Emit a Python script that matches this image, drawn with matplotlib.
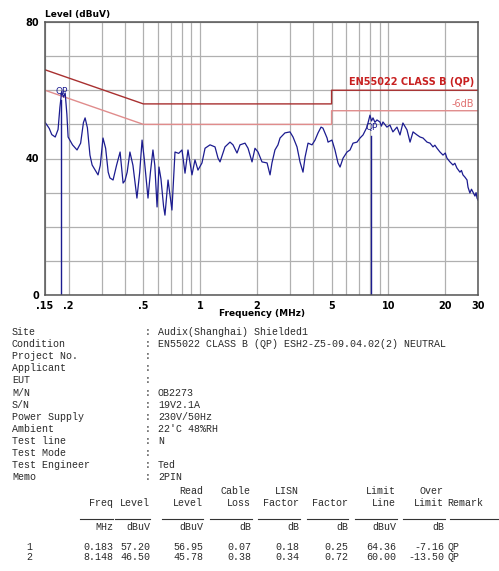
import matplotlib
matplotlib.use('Agg')
import matplotlib.pyplot as plt
from matplotlib.lines import Line2D

W, H = 499, 571

# Conducted emission scan (MHz, dBuV)
scan_freq = [0.150, 0.155, 0.158, 0.163, 0.170, 0.176, 0.180, 0.184, 0.188, 0.192,
             0.196, 0.199, 0.210, 0.222, 0.232, 0.240, 0.245, 0.252, 0.260, 0.267,
             0.287, 0.295, 0.305, 0.315, 0.325, 0.332, 0.345, 0.360, 0.376, 0.390,
             0.399, 0.410, 0.424, 0.440, 0.462, 0.478, 0.492, 0.505, 0.529, 0.545,
             0.562, 0.575, 0.591, 0.605, 0.620, 0.640, 0.651, 0.676, 0.690, 0.709,
             0.736, 0.770, 0.802, 0.832, 0.863, 0.906, 0.940, 0.975, 1.024, 1.063,
             1.130, 1.201, 1.246, 1.277, 1.357, 1.443, 1.497, 1.572, 1.631, 1.734,
             1.799, 1.889, 1.959, 2.033, 2.134, 2.271, 2.355, 2.411, 2.501, 2.595,
             2.661, 2.826, 3.006, 3.120, 3.275, 3.398, 3.525, 3.615, 3.749, 3.936,
             4.084, 4.237, 4.396, 4.499, 4.732, 4.788, 5.025, 5.212, 5.409, 5.547,
             5.755, 6.040, 6.267, 6.502, 6.825, 7.081, 7.347, 7.710, 8.000, 8.150,
             8.301, 8.500, 8.712, 9.039, 9.200, 9.378, 9.843, 10.21, 10.59, 11.13,
             11.55, 11.97, 12.58, 13.06, 13.55, 14.23, 14.76, 15.31, 16.08, 16.68,
             17.30, 17.70, 18.17, 18.84, 19.55, 20.10, 20.52, 21.29, 22.08, 22.60,
             23.18, 24.05, 24.50, 24.95, 25.60, 26.23, 26.55, 27.17, 27.70, 28.19,
             28.90, 29.30, 29.65, 30.00]
scan_level = [50.6, 49.5, 48.8, 47.0, 46.3, 48.5, 55.0, 59.6, 58.0, 59.2,
              53.0, 46.3, 44.0, 42.5, 44.5, 50.5, 51.9, 49.0, 41.0, 38.1,
              35.2, 38.0, 46.0, 43.0, 36.0, 34.3, 33.7, 38.0, 41.9, 32.8,
              33.5, 36.0, 41.9, 38.0, 28.4, 36.0, 45.4, 40.0, 28.4, 36.0,
              42.5, 38.0, 25.8, 37.5, 34.0, 26.0, 23.4, 33.7, 30.0, 24.9,
              41.9, 41.5, 42.5, 35.7, 42.5, 35.2, 39.6, 36.6, 38.7, 43.0,
              44.0, 43.4, 40.1, 39.0, 43.4, 44.8, 44.0, 41.6, 44.0, 44.5,
              43.0, 39.0, 43.0, 41.9, 39.0, 38.7, 35.2, 38.7, 42.5, 44.0,
              46.0, 47.5, 47.8, 46.3, 43.4, 39.0, 36.0, 40.4, 44.5, 44.0,
              45.4, 47.5, 49.2, 48.9, 46.0, 44.8, 45.4, 42.5, 38.7, 37.5,
              40.1, 41.9, 42.5, 44.5, 44.8, 46.0, 46.9, 49.2, 52.7, 51.0,
              51.9, 50.6, 51.3, 50.7, 49.5, 50.7, 49.2, 49.8, 47.8, 49.2,
              46.9, 50.4, 48.4, 44.8, 47.8, 46.9, 46.3, 46.0, 44.8, 44.5,
              43.4, 43.9, 43.0, 41.9, 41.0, 41.6, 40.1, 39.0, 38.1, 38.6,
              37.2, 36.0, 36.5, 35.2, 34.5, 33.7, 31.6, 29.9, 31.0, 30.2,
              29.0, 30.0, 28.4, 27.8]

# EN55022 class B quasi-peak limit and the -6 dB margin line
limit_freq = [0.15, 0.5, 5.0, 5.0, 30.0]
limit_qp = [66.0, 56.0, 56.0, 60.0, 60.0]
limit_margin = [60.0, 50.0, 50.0, 54.0, 54.0]

# Final QP measurements
qp_freq = [0.183, 8.148]
qp_level = [57.20, 46.50]
qp_read = [56.95, 45.78]
qp_cable = [0.07, 0.38]
qp_lisn = [0.18, 0.34]
qp_factor = [0.25, 0.72]
qp_limit = [64.36, 60.00]
qp_over = [-7.16, -13.50]
qp_remark = ['QP', 'QP']

info_labels = ['Site', 'Condition', 'Project No.', 'Applicant', 'EUT', 'M/N', 'S/N',
               'Power Supply', 'Ambient', 'Test line', 'Test Mode', 'Test Engineer', 'Memo']
info_values = ['Audix(Shanghai) Shielded1',
               'EN55022 CLASS B (QP) ESH2-Z5-09.04.02(2) NEUTRAL',
               '', '', '', 'OB2273', '19V2.1A', '230V/50Hz', "22'C 48%RH", 'N', '',
               'Ted', '2PIN']

grid_freqs = [0.15, 0.2, 0.3, 0.4, 0.5, 0.6, 0.7, 0.8, 0.9, 1, 2, 3, 4, 5, 6, 7, 8, 9, 10, 20, 30]
tick_text = {0.15: '.15', 0.2: '.2', 0.5: '.5', 1: '1', 2: '2', 5: '5', 10: '10', 20: '20', 30: '30'}

fig = plt.figure(figsize=(W / 100, H / 100), dpi=100)
ax = fig.add_axes([45 / W, 1 - 295 / H, 433 / W, 273 / H])

ax.set_xscale('log')
ax.set_xlim(0.15, 30)
ax.set_ylim(0, 80)
ax.set_xticks(grid_freqs)
ax.set_xticklabels([tick_text.get(f, '') for f in grid_freqs])
ax.xaxis.set_minor_locator(matplotlib.ticker.NullLocator())
ax.set_yticks(range(0, 81, 10))
ax.set_yticklabels(['0', '', '', '', '40', '', '', '', '80'])
ax.tick_params(length=0, labelsize=7, pad=4)
for lab in ax.get_xticklabels() + ax.get_yticklabels():
    lab.set_fontweight('bold')
ax.grid(True, color='#b0b0b0', lw=0.9)
for s in ax.spines.values():
    s.set_color('#555555')
    s.set_linewidth(1.1)

ax.plot(limit_freq, limit_qp, color='#a83030', lw=1.0)
ax.plot(limit_freq, limit_margin, color='#e08c8c', lw=1.0)
ax.plot(scan_freq, scan_level, color='#1c1c90', lw=0.9)

for f, lv in zip(qp_freq, qp_level):
    ax.plot([f, f], [0, lv], color='#1c1c90', lw=1.0)
    ax.text(f, lv + 1.2, 'QP', color='#1c1c90', fontsize=6.5, ha='center', va='bottom')

ax.text(28.6, 61.0, 'EN55022 CLASS B (QP)', color='#c82020', fontsize=7,
        fontweight='bold', ha='right', va='bottom')
ax.text(28.6, 54.6, '-6dB', color='#e07070', fontsize=7, ha='right', va='bottom')

fig.text(45 / W, 1 - 14 / H, 'Level (dBuV)', fontsize=6.5, fontweight='bold', va='center')
fig.text(262 / W, 1 - 314 / H, 'Frequency (MHz)', fontsize=6.5, fontweight='bold',
         ha='center', va='center')


def ftext(x, y, s, **kw):
    fig.text(x / W, 1 - y / H, s, family='Liberation Mono', fontsize=7.2,
             color='#2a2a2a', va='center', **kw)


# report header block
for i, (lab, val) in enumerate(zip(info_labels, info_values)):
    y = 332 + i * 12.1
    ftext(12, y, lab)
    ftext(145, y, ':')
    ftext(158, y, val)

# measurement table
col_right = [113, 150, 203, 251, 299, 348, 396, 444]
head1 = ['', '', 'Read', 'Cable', 'LISN', '', 'Limit', 'Over']
head2 = ['Freq', 'Level', 'Level', 'Loss', 'Factor', 'Factor', 'Line', 'Limit']
units = ['MHz', 'dBuV', 'dBuV', 'dB', 'dB', 'dB', 'dBuV', 'dB']
for x, a, b, u in zip(col_right, head1, head2, units):
    ftext(x, 491, a, ha='right')
    ftext(x, 503, b, ha='right')
    ftext(x, 527, u, ha='right')
ftext(447, 503, 'Remark')

rule_spans = [(80, 113), (115, 150), (162, 203), (210, 252), (258, 300),
              (307, 348), (355, 397), (403, 445), (450, 498)]
for x0, x1 in rule_spans:
    fig.add_artist(Line2D([x0 / W, x1 / W], [1 - 519 / H, 1 - 519 / H],
                          color='#333333', lw=0.8))

for i in range(len(qp_freq)):
    y = 547 + i * 9.5
    ftext(29, y, str(i + 1), ha='center')
    cells = ['%.3f' % qp_freq[i], '%.2f' % qp_level[i], '%.2f' % qp_read[i],
             '%.2f' % qp_cable[i], '%.2f' % qp_lisn[i], '%.2f' % qp_factor[i],
             '%.2f' % qp_limit[i], '%.2f' % qp_over[i]]
    for x, c in zip(col_right, cells):
        ftext(x, y, c, ha='right')
    ftext(447, y, qp_remark[i])

fig.savefig('out.png', dpi=100)
